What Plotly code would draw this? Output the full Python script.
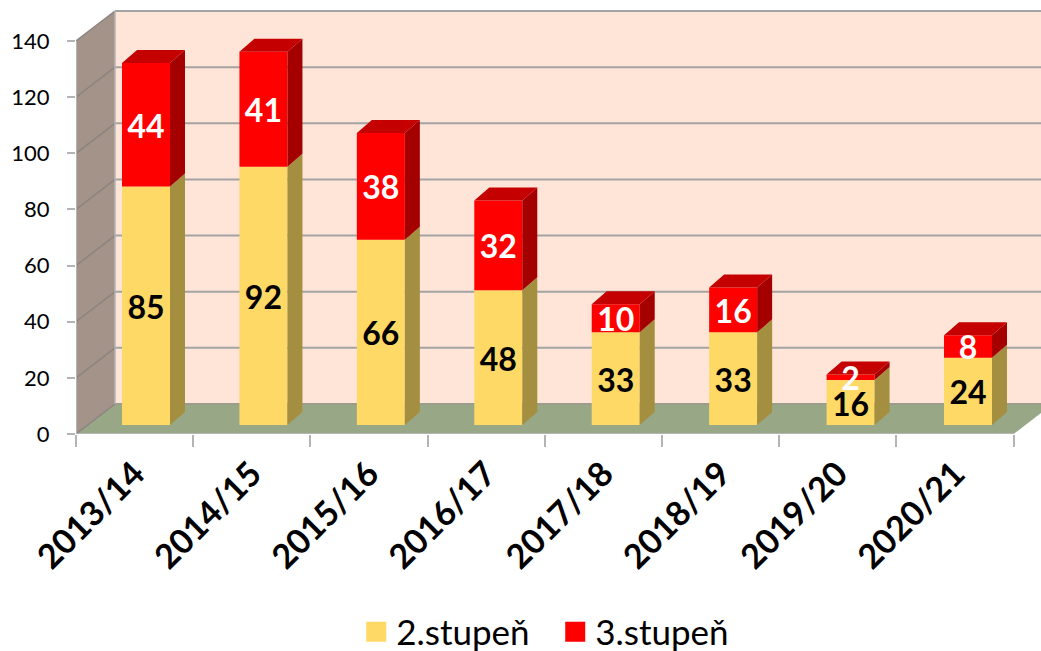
import plotly.graph_objects as go

categories = ["2013/14", "2014/15", "2015/16", "2016/17", "2017/18", "2018/19", "2019/20", "2020/21"]
stupen2 = [85, 92, 66, 48, 33, 33, 16, 24]
stupen3 = [44, 41, 38, 32, 10, 16, 2, 8]
y_ticks = [0, 20, 40, 60, 80, 100, 120, 140]

FONT = "Lato"
GOLD, GOLD_SIDE = "#FFD966", "#A38F3F"
RED, RED_SIDE, RED_TOP = "#FF0000", "#A50000", "#C40000"
WALL_BACK, WALL_LEFT, FLOOR = "#FFE4D8", "#A39388", "#98A886"
GRID, EDGE = "#A3A3A3", "#B4B4B4"

PX_X, PX_Y = 117.2, 2.807            # pixels per category / per value unit
WALL_DX, WALL_DY = 39 / PX_X, 30 / PX_Y
BAR_DX, BAR_DY = 15 / PX_X, 13 / PX_Y
BAR_W = 48 / PX_X
BAR_SHIFT = 11.4 / PX_X
BAR_STEP = 117.43 / PX_X
BASE = 9 / PX_Y
LABEL_DROP = 5 / PX_Y
X0, X1 = -0.5, 7.5
XMAX = X0 + (1041 - 76) / PX_X
YMAX = 434 / PX_Y

xs = [i * BAR_STEP + BAR_SHIFT for i in range(len(categories))]
bottoms3 = [BASE + v for v in stupen2]
tops = [b + v for b, v in zip(bottoms3, stupen3)]


def side_faces(lows, highs):
    px, py = [], []
    for x, lo, hi in zip(xs, lows, highs):
        r = x + BAR_W / 2
        px += [r, r + BAR_DX, r + BAR_DX, r, r, None]
        py += [lo, lo + BAR_DY, hi + BAR_DY, hi, lo, None]
    return px, py


def top_faces(highs):
    px, py = [], []
    for x, hi in zip(xs, highs):
        l, r = x - BAR_W / 2, x + BAR_W / 2
        px += [l, l + BAR_DX, r + BAR_DX, r, l, None]
        py += [hi, hi + BAR_DY, hi + BAR_DY, hi, hi, None]
    return px, py


def poly(px, py, color):
    return go.Scatter(x=px, y=py, mode="lines", fill="toself", fillcolor=color,
                      line=dict(width=0, color=color), showlegend=False, hoverinfo="skip")


def path(pts):
    return "M" + "L".join(f"{a},{b}" for a, b in pts) + "Z"


shapes = [
    dict(type="path", layer="below", line=dict(width=0), fillcolor=WALL_BACK,
         path=path([(X0 + WALL_DX, WALL_DY), (XMAX, WALL_DY), (XMAX, 140 + WALL_DY), (X0 + WALL_DX, 140 + WALL_DY)])),
    dict(type="path", layer="below", line=dict(width=0), fillcolor=WALL_LEFT,
         path=path([(X0, 0), (X0 + WALL_DX, WALL_DY), (X0 + WALL_DX, 140 + WALL_DY), (X0, 140)])),
    dict(type="path", layer="below", line=dict(width=0), fillcolor=FLOOR,
         path=path([(X0, 0), (X0 + WALL_DX, WALL_DY), (XMAX, WALL_DY), (XMAX, WALL_DY * (XMAX - X1) / WALL_DX), (X1, 0)])),
]
for t in y_ticks:
    shapes.append(dict(type="line", layer="below", x0=X0 + WALL_DX, x1=XMAX, y0=t + WALL_DY, y1=t + WALL_DY,
                       line=dict(color=GRID if t else "#9C9C8C", width=2)))
    shapes.append(dict(type="line", layer="below", x0=X0, x1=X0 + WALL_DX, y0=t, y1=t + WALL_DY,
                       line=dict(color="#8C8480", width=1.5)))
shapes += [
    dict(type="line", layer="below", x0=X0 + WALL_DX, x1=X0 + WALL_DX, y0=WALL_DY, y1=140 + WALL_DY,
         line=dict(color=EDGE, width=1.5)),
    dict(type="line", layer="above", x0=X0, x1=X1, y0=0, y1=0, line=dict(color=EDGE, width=2)),
    dict(type="line", layer="above", x0=X0, x1=X0, y0=0, y1=140, line=dict(color=EDGE, width=2)),
]

fig = go.Figure()
fig.add_bar(x=xs, y=stupen2, base=[BASE] * len(xs), width=BAR_W, marker=dict(color=GOLD, line=dict(width=0)),
            name="2.stupeň", legendgroup="a", showlegend=False)
fig.add_bar(x=xs, y=stupen3, base=bottoms3, width=BAR_W, marker=dict(color=RED, line=dict(width=0)),
            name="3.stupeň", legendgroup="b", showlegend=False)
fig.add_trace(poly(*side_faces([BASE] * len(xs), bottoms3), GOLD_SIDE))
fig.add_trace(poly(*side_faces(bottoms3, tops), RED_SIDE))
fig.add_trace(poly(*top_faces(tops), RED_TOP))

fig.add_trace(go.Scatter(x=xs, y=[BASE + v / 2 - LABEL_DROP for v in stupen2], mode="text",
                         text=[str(v) for v in stupen2], textposition="middle center",
                         textfont=dict(family=FONT, size=32, color="#000000", weight="bold"),
                         showlegend=False, hoverinfo="skip"))
fig.add_trace(go.Scatter(x=xs, y=[b + v / 2 - LABEL_DROP for b, v in zip(bottoms3, stupen3)], mode="text",
                         text=[str(v) for v in stupen3], textposition="middle center",
                         textfont=dict(family=FONT, size=32, color="#FFFFFF", weight="bold"),
                         showlegend=False, hoverinfo="skip"))

for name, color, group in [("2.stupeň", GOLD, "a"), ("3.stupeň", RED, "b")]:
    fig.add_trace(go.Scatter(x=[None], y=[None], mode="markers", name=name, legendgroup=group,
                             marker=dict(symbol="square", size=16, color=color, line=dict(width=4, color=color))))

fig.update_layout(
    width=1041, height=651, autosize=False,
    margin=dict(l=76, r=0, t=0, b=651 - 434, autoexpand=False),
    paper_bgcolor="white", plot_bgcolor="white",
    barmode="overlay", shapes=shapes,
    font=dict(family=FONT, color="#000000"),
    showlegend=True,
    legend=dict(orientation="h", x=0.4966, xanchor="center", y=-0.456, yanchor="middle",
                font=dict(family=FONT, size=35), entrywidth=154, itemclick=False, itemdoubleclick=False),
    xaxis=dict(range=[X0, XMAX], showgrid=False, zeroline=False, showline=False, automargin=False,
               tickmode="array", tickvals=list(range(len(categories))), ticktext=categories,
               ticks="", tickangle=-45, tickfont=dict(family=FONT, size=34, color="#000000", weight="bold"),
               ticklabelstandoff=12,
               minor=dict(tickmode="array", tickvals=[i - 0.5 for i in range(len(categories) + 1)],
                          ticks="outside", ticklen=12, tickwidth=2, tickcolor=EDGE, showgrid=False)),
    yaxis=dict(range=[0, YMAX], showgrid=False, zeroline=False, showline=False, automargin=False,
               tickmode="array", tickvals=y_ticks, ticks="outside", ticklen=8, tickwidth=2, tickcolor=EDGE,
               tickfont=dict(family=FONT, size=22, color="#000000"), ticklabelstandoff=13),
)

fig.write_html("out.html", config=dict(displayModeBar=False),
               post_script="document.body.style.margin='0';")
